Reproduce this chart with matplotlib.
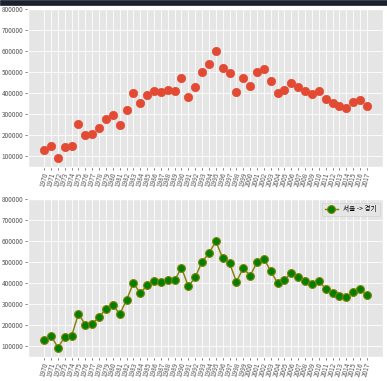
import numpy as np
import matplotlib
matplotlib.use("Agg")
import matplotlib.pyplot as plt
from matplotlib.patches import Rectangle

plt.style.use("ggplot")
plt.rcParams["font.family"] = ["Noto Sans CJK KR", "DejaVu Sans"]
plt.rcParams["axes.unicode_minus"] = False

# 서울 -> 경기 이동 인구
years = [str(y) for y in range(1970, 2018)]
movers = [130149, 150313, 93333, 143234, 149045, 253705, 202276, 207722,
          237684, 278411, 297539, 252073, 320174, 400875, 352238, 390265,
          412535, 405220, 415174, 412933, 473889, 384714, 428344, 502584,
          542204, 599411, 520260, 495454, 407050, 471841, 435573, 499575,
          516765, 457656, 400206, 414621, 449632, 431637, 412408, 398282,
          410735, 373771, 354135, 340801, 332785, 359337, 370760, 342433]
label = "서울 -> 경기"

fig = plt.figure(figsize=(3.87, 3.81), dpi=100)
fig.add_artist(Rectangle((0, 1 - 5 / 381), 1, 5 / 381, transform=fig.transFigure,
                         color="#1b222e", zorder=10))

ax1 = fig.add_axes([0.0724, 0.5617, 0.9173, 0.4139])
ax1.scatter(years, movers, s=36, color="#E24A33", zorder=3)

ax2 = fig.add_axes([0.0724, 0.064, 0.9173, 0.413])
ax2.plot(years, movers, marker="o", markersize=5.6, markerfacecolor="green",
         markeredgecolor="olive", markeredgewidth=0.8, color="olive",
         linewidth=1.0, label=label)
ax2.legend(loc="best", fontsize=4.8)

for ax in (ax1, ax2):
    ax.set_ylim(50000, 800000)
    ax.set_yticks(np.arange(100000, 800001, 100000))
    ax.tick_params(axis="both", labelsize=4.6, length=2, width=0.5, pad=1.5)
    ax.tick_params(axis="x", labelrotation=75)
    ax.grid(True, color="white", linewidth=0.6)

fig.savefig("out.png", dpi=100)
